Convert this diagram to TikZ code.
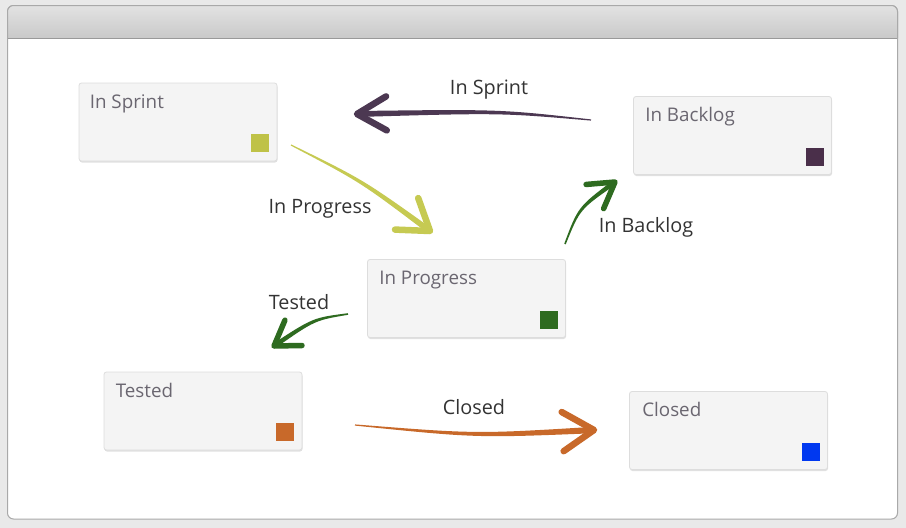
\documentclass[tikz,border=0pt]{standalone}
\usepackage{fontspec}
\setmainfont{Open Sans}
\usetikzlibrary{calc,shadows}
\definecolor{outerbg}{HTML}{E9E9E9}
\definecolor{frameline}{HTML}{A9A9A9}
\definecolor{bartop}{HTML}{E2E2E2}
\definecolor{barbot}{HTML}{C9C9C9}
\definecolor{boxfill}{HTML}{F4F4F4}
\definecolor{boxline}{HTML}{DDDDDD}
\definecolor{titlegray}{HTML}{6A6670}
\definecolor{labelgray}{HTML}{333333}
\definecolor{cSprint}{HTML}{BFC247}
\definecolor{cSprintArr}{HTML}{C6CA52}
\definecolor{cBacklog}{HTML}{4A2F4A}
\definecolor{cBacklogArr}{HTML}{4C3852}
\definecolor{cProgress}{HTML}{2E6B20}
\definecolor{cTested}{HTML}{C8692A}
\definecolor{cClosed}{HTML}{0038F0}
\newcommand\taperline[7]{%
  \fill[#1] ($(#2)!#5!90:(#3)$) .. controls ($(#3)!#6!90:(#4)$) .. ($(#4)!#7!-90:(#3)$)
    -- ($(#4)!#7!90:(#3)$) .. controls ($(#3)!#6!-90:(#4)$) .. ($(#2)!#5!-90:(#3)$) -- cycle;}
\newcommand\chevron[6]{%
  \draw[#1, line width=#6, line cap=round, line join=round]
    ($(#2)!#4!#5:(#3)$) -- (#2) -- ($(#2)!#4!-#5:(#3)$);}
\begin{document}
\begin{tikzpicture}[x=1pt,y=-1pt,
  box/.style={draw=boxline, fill=boxfill, rounded corners=2.5pt, line width=0.8pt,
    minimum width=198pt, minimum height=78pt, inner sep=0pt,
    drop shadow={shadow xshift=0.5pt, shadow yshift=-1.5pt, fill=black, opacity=0.12}},
  title/.style={anchor=base west, inner sep=0pt, text=titlegray, font=\fontsize{18.8}{22}\selectfont},
  swatch/.style={minimum size=18pt, inner sep=0pt},
  lbl/.style={inner sep=0pt, text=labelgray, font=\fontsize{19.8}{23}\selectfont}]
\useasboundingbox (0,0) rectangle (906,528);
% window
\fill[outerbg] (0,0) rectangle (906,528);
\draw[frameline, fill=white, rounded corners=6pt, line width=1pt] (7.5,5.5) rectangle (897.5,519);
\shade[top color=bartop, bottom color=barbot] (8,38) [rounded corners=5.5pt] -- (8,6) -- (897,6) [sharp corners] -- (897,38) -- cycle;
\draw[frameline, rounded corners=6pt, line width=1pt] (7.5,38) -- (7.5,5.5) -- (897.5,5.5) -- (897.5,38);
\draw[black!40, line width=1pt] (8,38) -- (897,38);
% nodes
\node[box] (sprint) at (178,122) {};
\node[title] (sprintT) at ($(sprint.north west)+(11,25.5)$) {In Sprint};
\node[swatch, fill=cSprint] (sprintS) at ($(sprint.south east)+(-17,-18)$) {};
\node[box] (backlog) at (732.5,135.5) {};
\node[title] (backlogT) at ($(backlog.north west)+(12,25.5)$) {In Backlog};
\node[swatch, fill=cBacklog] (backlogS) at ($(backlog.south east)+(-17,-18)$) {};
\node[box] (progress) at (466.5,298.5) {};
\node[title] (progressT) at ($(progress.north west)+(12,25.5)$) {In Progress};
\node[swatch, fill=cProgress] (progressS) at ($(progress.south east)+(-17,-18)$) {};
\node[box] (tested) at (203,411) {};
\node[title] (testedT) at ($(tested.north west)+(12,25.5)$) {Tested};
\node[swatch, fill=cTested] (testedS) at ($(tested.south east)+(-17,-18)$) {};
\node[box] (closed) at (728.5,430.5) {};
\node[title] (closedT) at ($(closed.north west)+(13,25.5)$) {Closed};
\node[swatch, fill=cClosed] (closedS) at ($(closed.south east)+(-17,-18)$) {};
% connector end points
\coordinate (sA) at (591,120); \coordinate (sC) at (500,111); \coordinate (sB) at (357,114);
\coordinate (pA) at (291,145); \coordinate (pC) at (362,181); \coordinate (pB) at (430,231);
\coordinate (bA) at (565,244); \coordinate (bC) at (579,208); \coordinate (bB) at (615,182);
\coordinate (tA) at (348,314); \coordinate (tC) at (314,319); \coordinate (tB) at (274,346);
\coordinate (cA) at (355,425); \coordinate (cC) at (476,436); \coordinate (cB) at (594,430);
% connectors
\taperline{cBacklogArr}{sA}{sC}{sB}{0.6pt}{1.8pt}{3pt}
\chevron{cBacklogArr}{sB}{sC}{34pt}{30}{6.5pt}
\taperline{cSprintArr}{pA}{pC}{pB}{0.6pt}{1.8pt}{3pt}
\chevron{cSprintArr}{pB}{pC}{35pt}{34}{6.5pt}
\taperline{cProgress}{bA}{bC}{bB}{0.8pt}{1.5pt}{2.4pt}
\chevron{cProgress}{bB}{bC}{29pt}{31}{5.5pt}
\taperline{cProgress}{tA}{tC}{tB}{0.8pt}{1.6pt}{2.4pt}
\chevron{cProgress}{tB}{tC}{28pt}{33}{5.5pt}
\taperline{cTested}{cA}{cC}{cB}{0.6pt}{2pt}{3.2pt}
\chevron{cTested}{cB}{cC}{37pt}{32}{6.5pt}
% labels
\node[lbl] (sL) at (489,90) {In Sprint};
\node[lbl] (pL) at (320,209) {In Progress};
\node[lbl] (bL) at (646,227) {In Backlog};
\node[lbl] (tL) at (299,302) {Tested};
\node[lbl] (cL) at (474,407) {Closed};
\end{tikzpicture}
\end{document}
